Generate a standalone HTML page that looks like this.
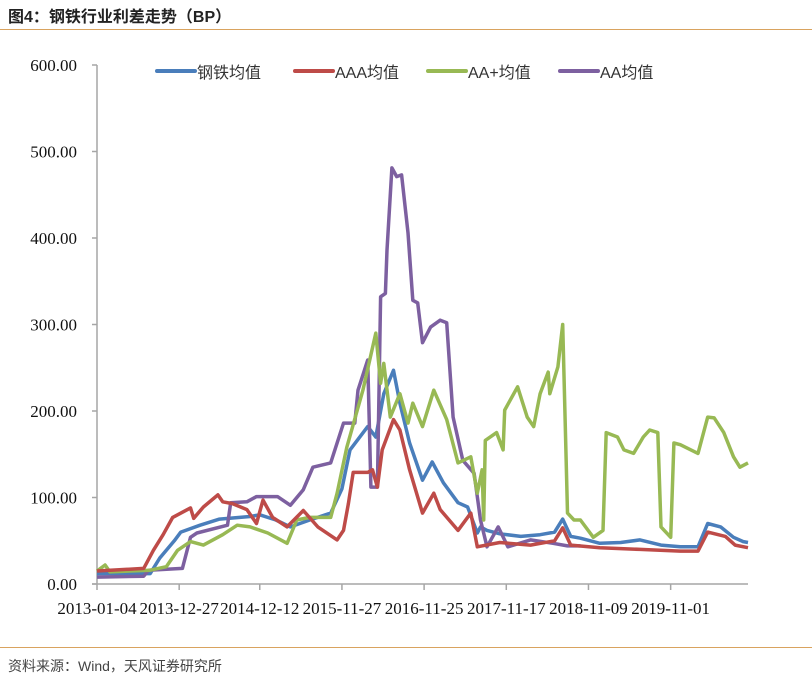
<!DOCTYPE html>
<html><head><meta charset="utf-8">
<style>
body{margin:0;background:#fff;width:812px;height:684px;overflow:hidden;font-family:"Liberation Sans","Noto Sans CJK SC",sans-serif;}
#title{position:absolute;left:8px;top:3px;font-size:16px;font-weight:bold;color:#222;letter-spacing:0px;}
#topline{position:absolute;left:0;top:29px;width:812px;height:0;border-top:1.5px solid #D9A35F;}
#botline{position:absolute;left:0;top:647px;width:812px;height:0;border-top:1.5px solid #D9A35F;}
#source{position:absolute;left:8px;top:656px;font-size:14px;color:#444;}
svg{position:absolute;left:0;top:0;}
</style></head><body>
<div id="title">图4：钢铁行业利差走势（BP）</div>
<div id="topline"></div>
<svg id="chart" width="812" height="684"></svg>
<div id="botline"></div>
<div id="source">资料来源：Wind，天风证券研究所</div>
<script>
const yTicks=[0,100,200,300,400,500,600];
const xTickWeeks=[0,51,101,152,203,254,305,356];
const xTickLabels=["2013-01-04","2013-12-27","2014-12-12","2015-11-27","2016-11-25","2017-11-17","2018-11-09","2019-11-01"];
const seriesNames=["钢铁均值","AAA均值","AA+均值","AA均值"];
const steelWeeks=[0,33,39,48,52,64,76,95,101,111,120,132,145,152,157,168,173,178,184,188,194,202,208,215,224,230,236,238,242,250,263,275,284,289,294,300,312,325,337,350,362,373,379,387,395,401,404];
const steelVals=[12,12,30,50,60,68,75,78,80,74,66,74,82,110,155,182,170,220,247,209,163,120,141,117,94,89,59,66,62,58,55,57,60,75,55,53,47,48,51,45,43,43,70,66,54,49,48];
const aaaWeeks=[0,29,35,41,47,58,60,66,75,78,84,93,99,103,109,118,128,137,149,153,156,159,168,171,174,177,184,188,194,202,209,213,224,232,236,250,269,284,289,294,312,337,362,373,379,390,396,404];
const aaaVals=[15,18,39,57,77,88,76,89,103,95,93,86,70,97,77,66,85,66,51,62,93,129,129,132,112,155,190,178,132,82,105,86,62,82,43,48,45,50,65,45,42,40,38,38,60,55,45,42];
const aaPlusWeeks=[0,5,8,33,43,50,58,66,78,87,95,106,118,124,132,145,149,155,165,173,176,178,182,188,193,196,202,209,217,224,232,236,239,240,241,248,252,253,261,267,271,275,280,281,286,289,292,296,300,308,314,316,323,327,333,339,343,348,350,356,358,362,373,379,383,389,395,399,404];
const aaPlusVals=[15,22,14,16,20,39,49,45,57,68,66,59,47,74,77,77,105,158,224,290,232,255,193,220,186,209,182,224,190,140,147,105,132,74,166,175,155,201,228,193,182,220,245,220,251,300,82,74,74,54,62,175,170,155,151,170,178,175,66,54,163,161,151,193,192,175,147,135,140];
const aaWeeks=[0,29,32,53,58,62,81,83,93,99,112,120,128,134,145,149,153,160,162,168,170,174,176,179,180,183,186,189,193,196,199,202,207,213,217,221,227,234,238,242,249,255,269,283,292,300];
const aaVals=[8,9,16,18,54,59,68,94,95,101,101,91,109,135,140,163,186,186,224,259,112,112,332,336,386,481,471,473,406,328,325,279,297,305,302,193,143,128,74,43,66,43,51,47,44,44];
const colors=["#4A7EBB","#BE4B48","#98B954","#7D60A0"];

const NS="http://www.w3.org/2000/svg";
const svg=document.getElementById('chart');
const X0=97,X1=748,Y0=584,Y1=65,WMAX=404,VMAX=600;
const xs=w=>X0+w/WMAX*(X1-X0);
const ys=v=>Y0-v/VMAX*(Y0-Y1);
function mk(tag,attrs){const e=document.createElementNS(NS,tag);for(const k in attrs)e.setAttribute(k,attrs[k]);svg.appendChild(e);return e;}

// axes
let ya=mk('line',{x1:X0,y1:Y1,x2:X0,y2:Y0,stroke:'#A6A6A6','stroke-width':1.5});


yTicks.forEach(v=>{
  const t=mk('line',{x1:X0-5,y1:ys(v),x2:X0,y2:ys(v),stroke:'#A6A6A6','stroke-width':1.5});
  
  
  const l=mk('text',{x:77,y:ys(v)+6,'text-anchor':'end','font-family':'Liberation Serif, serif','font-size':17,fill:'#111'});
  l.textContent=v.toFixed(2);
  
  
});
let xa=mk('line',{x1:92,y1:Y0,x2:X1,y2:Y0,stroke:'#A6A6A6','stroke-width':1.5});


xTickWeeks.forEach((w,i)=>{
  const t=mk('line',{x1:xs(w),y1:Y0,x2:xs(w),y2:Y0+6,stroke:'#A6A6A6','stroke-width':1.5});
  
  
  const l=mk('text',{x:xs(w),y:614,'text-anchor':'middle','font-family':'Liberation Serif, serif','font-size':17,fill:'#111'});
  l.textContent=xTickLabels[i];
  
  
});

// series
const weeksArr=[steelWeeks,aaaWeeks,aaPlusWeeks,aaWeeks];
const valsArr=[steelVals,aaaVals,aaPlusVals,aaVals];
const seriesKeys=['steel','aaa','aa-plus','aa'];
[0,3,2,1].forEach(i=>{
  const pts=weeksArr[i].map((w,j)=>xs(w).toFixed(1)+','+ys(valsArr[i][j]).toFixed(1)).join(' ');
  const p=mk('polyline',{points:pts,fill:'none',stroke:colors[i],'stroke-width':3.5,'stroke-linejoin':'round'});
  
  
});

// legend
const legX=[157,295,428,560];
seriesNames.forEach((n,i)=>{
  const s=mk('line',{x1:legX[i],y1:71,x2:legX[i]+38,y2:71,stroke:colors[i],'stroke-width':4,'stroke-linecap':'round'});
  
  
  const t=mk('text',{x:legX[i]+40,y:78,'font-family':'Liberation Sans, Noto Sans CJK SC, sans-serif','font-size':16,fill:'#333'});
  t.textContent=n;
  
  
});
</script>
</body></html>
